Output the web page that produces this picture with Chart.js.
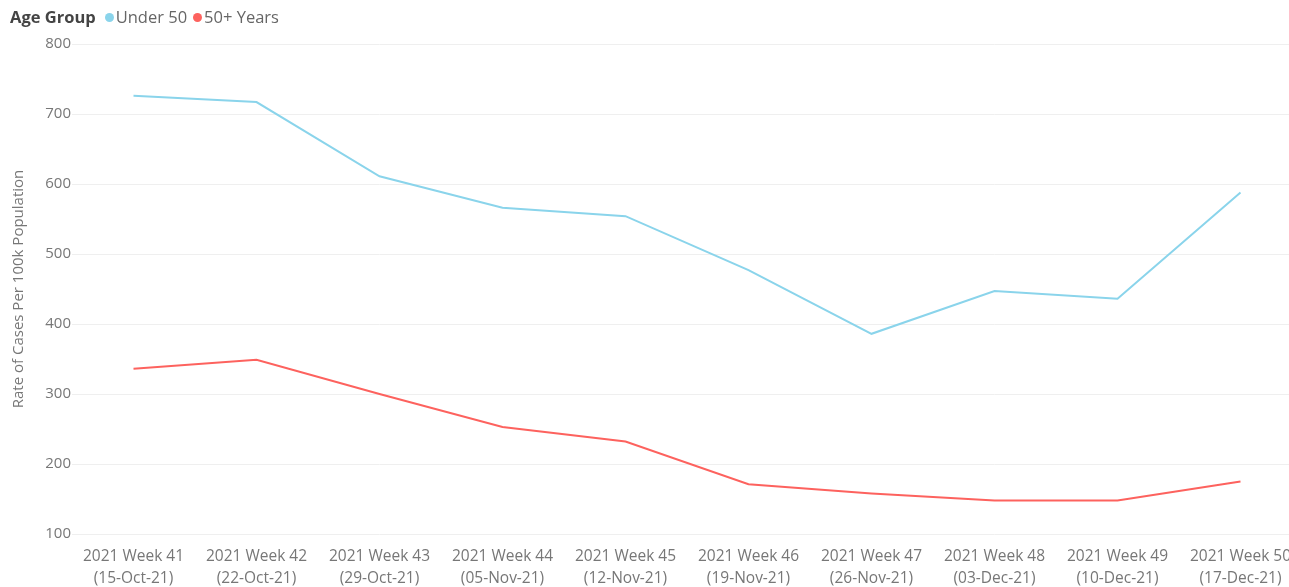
<!DOCTYPE html>
<html>
<head>
<meta charset="utf-8">
<script src="https://cdn.jsdelivr.net/npm/chart.js@4.4.1/dist/chart.umd.min.js"></script>
<style>
  html, body { margin: 0; padding: 0; background: #fff; }
  #wrap { position: relative; width: 1289px; height: 587px; overflow: hidden; }
  #legend { position: absolute; left: 10px; top: 5px; font-family: "Open Sans", sans-serif; font-size: 16.5px; color: #666; white-space: nowrap; }
  #legend b { color: #444; margin-right: 9px; }
  #legend .dot { display: inline-block; width: 9px; height: 9px; border-radius: 50%; margin-right: 2px; vertical-align: 1px; }
  #legend .item { margin-right: 6px; }
  #chart { position: absolute; left: 0; top: 0; }
</style>
</head>
<body>
<div id="wrap">
  <canvas id="chart" width="1302" height="587"></canvas>
  <div id="legend"></div>
</div>
<script>
// Week labels (two lines each)
const weekLabels = ['2021 Week 41', '2021 Week 42', '2021 Week 43', '2021 Week 44', '2021 Week 45',
                    '2021 Week 46', '2021 Week 47', '2021 Week 48', '2021 Week 49', '2021 Week 50'];
const weekDates = ['(15-Oct-21)', '(22-Oct-21)', '(29-Oct-21)', '(05-Nov-21)', '(12-Nov-21)',
                   '(19-Nov-21)', '(26-Nov-21)', '(03-Dec-21)', '(10-Dec-21)', '(17-Dec-21)'];

// Rate of cases per 100k, by age group
const under50 = [726, 717, 611, 566, 554, 477, 386, 447, 436, 588];
const over50 = [336, 349, 300, 253, 232, 171, 158, 148, 148, 175];

const seriesNames = ['Under 50', '50+ Years'];
const seriesColors = ['#8AD4EB', '#FD625E'];

const yTicks = [100, 200, 300, 400, 500, 600, 700, 800];

// Legend
const legend = document.getElementById('legend');
legend.innerHTML = '<b>Age Group</b>' + seriesNames.map(function(name, i) {
  return '<span class="item"><span class="dot" style="background:' + seriesColors[i] + '"></span>' + name + '</span>';
}).join('');

const font = "'Open Sans', sans-serif";
const ctx = document.getElementById('chart').getContext('2d');
new Chart(ctx, {
  type: 'line',
  data: {
    labels: weekLabels.map(function(w, i) { return [w, weekDates[i]]; }),
    datasets: [
      { label: seriesNames[0], data: under50, borderColor: seriesColors[0], borderWidth: 2, pointRadius: 0, tension: 0 },
      { label: seriesNames[1], data: over50, borderColor: seriesColors[1], borderWidth: 2, pointRadius: 0, tension: 0 }
    ]
  },
  options: {
    responsive: false,
    animation: false,
    layout: { padding: { top: 44, right: 0, bottom: 0, left: 0 } },
    plugins: {
      legend: { display: false },
      tooltip: { enabled: false }
    },
    scales: {
      x: {
        offset: true,
        afterFit: function(scale) { scale.height = 53; },
        grid: { display: false },
        border: { display: false },
        ticks: {
          autoSkip: false,
          maxRotation: 0,
          minRotation: 0,
          padding: 4,
          color: '#777',
          font: { family: font, size: 15.5, lineHeight: 1.42 }
        }
      },
      y: {
        min: 100,
        max: 800,
        afterBuildTicks: function(scale) {
          scale.ticks = yTicks.map(function(v) { return { value: v }; });
        },
        afterFit: function(scale) { scale.width = 72; },
        grid: { color: '#efefef', drawTicks: false },
        border: { display: false },
        ticks: {
          padding: 1,
          color: '#777',
          font: { family: font, size: 15 }
        },
        title: {
          display: true,
          text: 'Rate of Cases Per 100k Population',
          color: '#777',
          padding: { top: 10, bottom: 0 },
          font: { family: font, size: 15 }
        }
      }
    }
  }
});
</script>
</body>
</html>
